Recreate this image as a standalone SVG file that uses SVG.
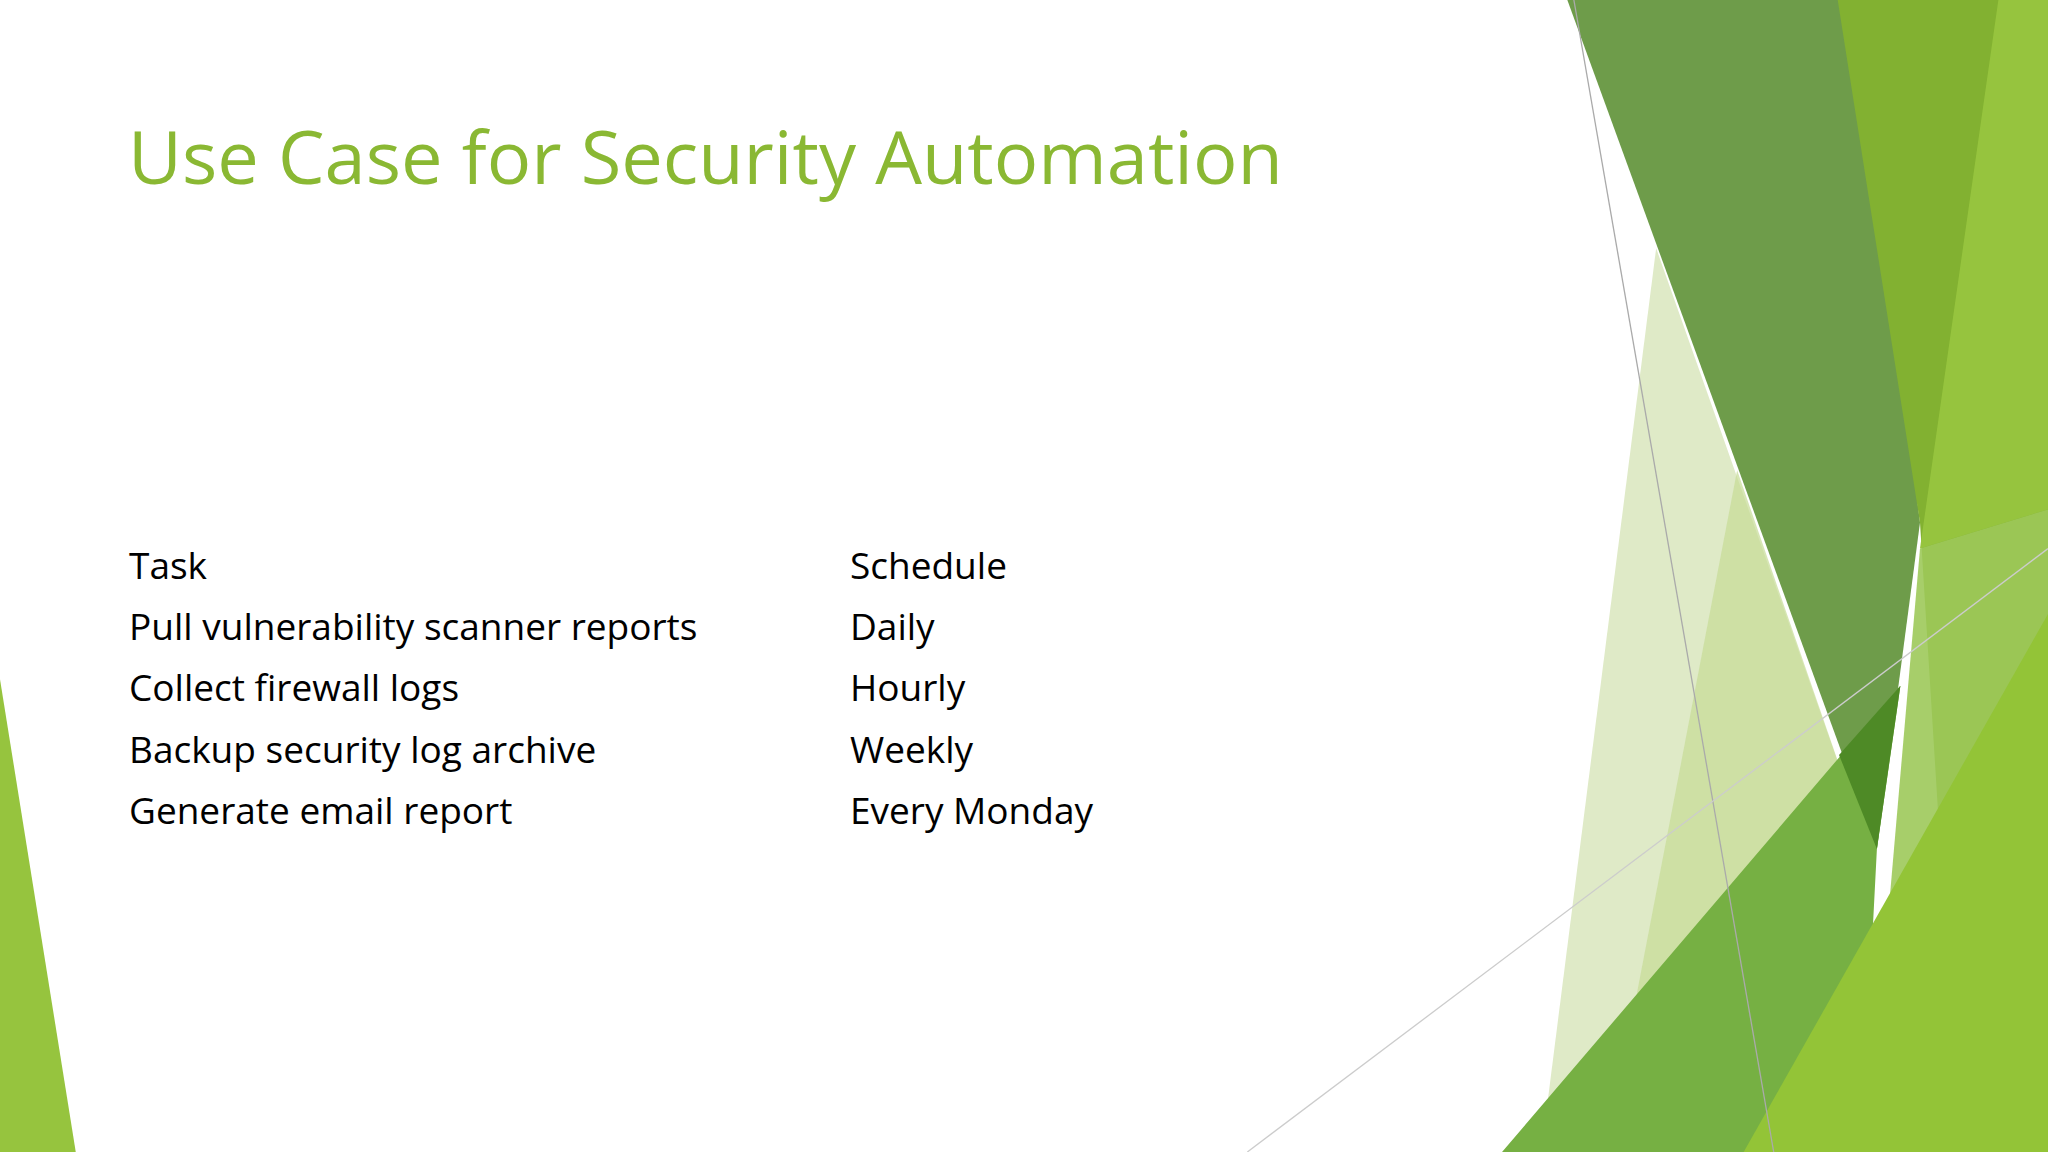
<svg xmlns="http://www.w3.org/2000/svg" width="2048" height="1152" viewBox="0 0 2048 1152">
<style>
.t{font-family:"Open Sans","DejaVu Sans",sans-serif;font-size:37px;fill:#000}
.h{font-family:"Open Sans","DejaVu Sans",sans-serif;font-size:74px;fill:#8ab833}
</style>
<rect width="2048" height="1152" fill="#fff"/>
<g transform="scale(1.30612)">
<polygon points="0,520 0,882 58,882" fill="#96c43e"/>
<polygon points="1268,190 1420,620 1370,882 1180,882" fill="#dfeac7"/>
<polygon points="1330,360 1420,620 1380,882 1230,882" fill="#c6dc96" opacity="0.7"/>
<polygon points="1200,0 1420,0 1470,400 1437,650" fill="#6e9c4a"/>
<polygon points="1407,0 1568,0 1568,882 1500,882 1470,400" fill="#82b131"/>
<polygon points="1530,0 1568,0 1568,390 1470,420" fill="#96c43e"/>
<polygon points="1470,420 1568,390 1568,882 1430,882" fill="#9dc95a" opacity="0.9"/>
<polygon points="1455,525 1437,650 1425,882 1150,882" fill="#76b043"/>
<polygon points="1568,470 1568,882 1335,882" fill="#93c437"/>
<polygon points="1408,578 1455,525 1437,650" fill="#4e8a26"/>
<line x1="1205" y1="0" x2="1358" y2="882" stroke="#aaa" stroke-width="1"/>
<line x1="955" y1="882" x2="1568" y2="420" stroke="#ccc" stroke-width="1"/>
</g>
<text class="h" x="128" y="184">Use Case for Security Automation</text>
<g id="table">
<text class="t" x="129" y="579">Task</text>
<text class="t" x="850" y="579">Schedule</text>
<text class="t" x="129" y="640">Pull vulnerability scanner reports</text>
<text class="t" x="850" y="640">Daily</text>
<text class="t" x="129" y="701">Collect firewall logs</text>
<text class="t" x="850" y="701">Hourly</text>
<text class="t" x="129" y="763">Backup security log archive</text>
<text class="t" x="850" y="763">Weekly</text>
<text class="t" x="129" y="824">Generate email report</text>
<text class="t" x="850" y="824">Every Monday</text>
</g>
</svg>
